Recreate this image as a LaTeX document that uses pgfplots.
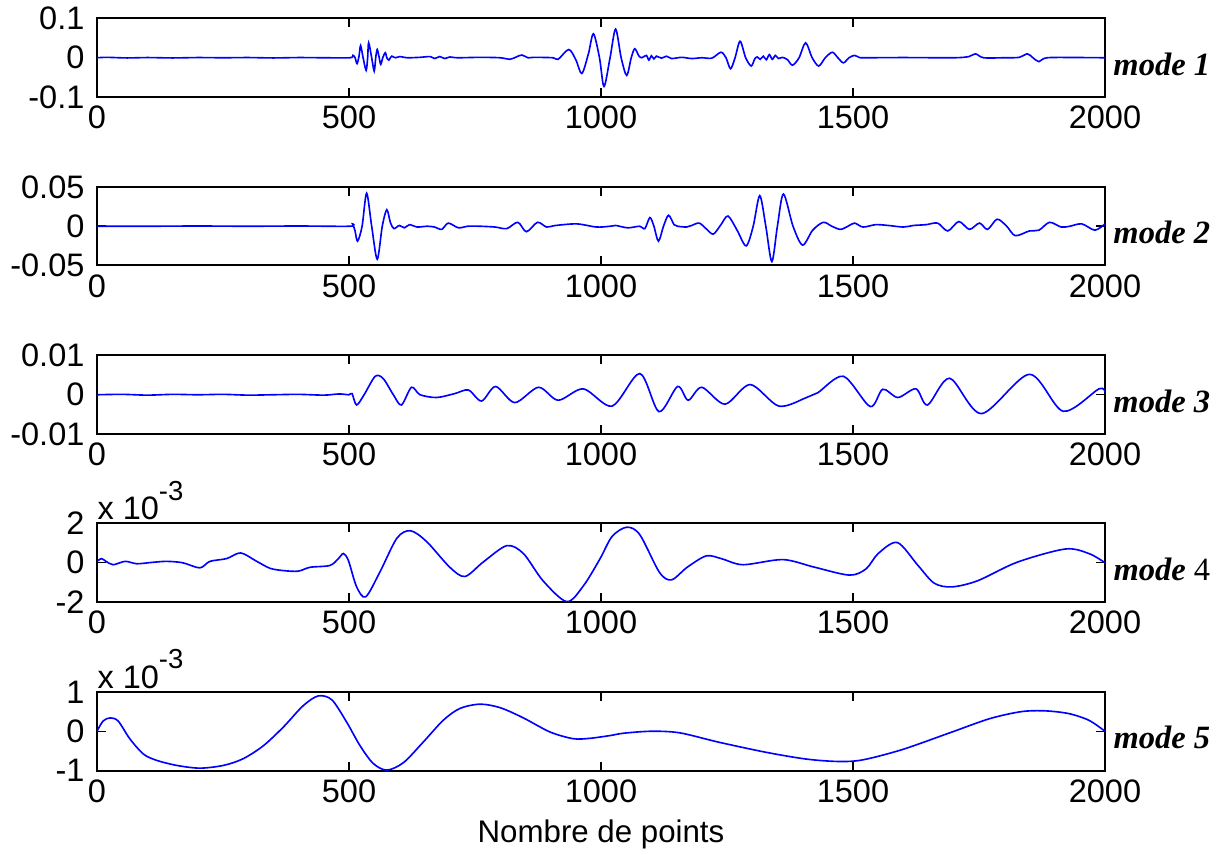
\documentclass[border=0pt]{standalone}
\usepackage{fontspec}
\setmainfont{Liberation Sans}
\newfontfamily\tnr{Liberation Serif}
\usepackage{pgfplots}
\pgfplotsset{compat=1.18}

\pgfplotsset{
  mode/.style={
    scale only axis, width=403.2pt, height=31.4pt,
    anchor=south west,
    clip mode=individual,
    xmin=0, xmax=2000,
    xtick={0,500,1000,1500,2000},
    xticklabels={0,500,1000,1500,2000},
    scaled y ticks=false,
    tick align=inside,
    major tick length=3.6pt,
    ticklabel style={font=\fontsize{13}{15}\selectfont},
    yticklabel style={xshift=-1.5pt},
    axis line style={line width=0.8pt},
    every tick/.style={black, line width=0.6pt},
  },
  sig/.style={blue, line width=0.65pt, smooth, tension=0.5, mark=none},
}
\newcommand{\modelabel}[1]{\node[anchor=base west, inner sep=0pt, xshift=3.2pt, yshift=-7pt,
  font=\tnr\fontsize{13}{15}\selectfont] at (rel axis cs:1,0.5) {#1};}
\newcommand{\expolabel}{\node[anchor=south west, inner sep=0pt, yshift=1.2pt,
  font=\fontsize{13}{15}\selectfont] at (rel axis cs:0,1) {x 10\raisebox{0.6em}{\fontsize{11}{12}\selectfont -3}};}

\begin{document}
\begin{tikzpicture}
\path[use as bounding box] (0,0) rectangle (490.8pt,-342pt);

% mode 1
\begin{axis}[mode, at={(38.8pt,-38.8pt)},
  ymin=-0.1, ymax=0.1, ytick={-0.1,0,0.1}, yticklabels={-0.1,0,0.1}]
\addplot[sig] coordinates {
(0,0) (20,0.001) (60,-0.0005) (100,0.0005) (150,-0.0005) (200,0.0005) (250,0) (300,0.0005)
(350,-0.0005) (400,0.0005) (450,0) (502,0)
(508,0.006) (512,0) (516,-0.015) (520,0.005) (523,0.031) (528,0) (534,-0.032) (537,0)
(539,0.038) (545,0) (550,-0.034) (553,0) (556,0.021) (560,0) (563,-0.017) (567,0)
(572,0.013) (575,0) (579,-0.006) (582,0) (585,0.004) (592,0) (601,0.003) (615,0)
(640,0.001) (661,0.003) (670,-0.002) (680,0.003) (690,-0.002) (700,0.002) (715,0)
(760,0.001) (800,0) (819,-0.004) (832,0.002) (843,0.007) (855,0) (866,0.001) (905,0)
(915,-0.004) (936,0.021) (950,-0.005) (962,-0.040) (975,0.010) (985,0.061) (997,0)
(1006,-0.073) (1018,0) (1029,0.073) (1040,0) (1051,-0.045) (1060,0) (1067,0.023)
(1075,0.005) (1081,0) (1090,0.006) (1095,-0.006) (1100,0.005) (1105,-0.003) (1110,0.004)
(1120,-0.001) (1130,0.004) (1140,-0.002) (1160,0.001) (1180,-0.002) (1200,0) (1220,-0.001)
(1238,0.014) (1248,0) (1257,-0.028) (1266,0) (1276,0.042) (1287,0) (1298,-0.021)
(1305,-0.003) (1310,0.002) (1316,-0.004) (1322,0.004) (1328,-0.005) (1334,0.008)
(1340,-0.004) (1346,0.006) (1352,-0.002) (1360,0.001) (1370,-0.005) (1380,-0.019)
(1393,0) (1406,0.038) (1419,0) (1432,-0.021) (1445,0) (1459,0.014) (1470,0) (1481,-0.013)
(1492,0) (1503,0.006) (1512,0.001) (1522,0) (1600,0.0005) (1700,0) (1730,0.003)
(1743,0.010) (1759,0) (1800,0) (1830,0.001) (1846,0.010) (1857,0) (1869,-0.010)
(1885,0) (1950,0.0005) (2000,0)
};
\modelabel{\bfseries\itshape mode 1}
\end{axis}

% mode 2
\begin{axis}[mode, at={(38.8pt,-106.2pt)},
  ymin=-0.05, ymax=0.05, ytick={-0.05,0,0.05}, yticklabels={-0.05,0,0.05}]
\addplot[sig] coordinates {
(0,0) (100,0) (200,0.0003) (300,0) (400,0.0003) (502,0) (507,0.003) (512,-0.006)
(517,-0.019) (526,0) (535,0.042) (545,0) (556,-0.042) (566,0) (575,0.021) (582,0.005)
(589,-0.003) (600,0.001) (610,-0.002) (620,0.002) (635,-0.001) (655,0) (670,-0.001)
(684,-0.004) (697,0.004) (717,-0.002) (735,0) (760,0) (790,-0.001) (813,-0.003)
(835,0.005) (852,-0.007) (874,0.005) (892,-0.001) (910,0.001) (952,0.003) (991,-0.001)
(1018,0) (1029,0.001) (1053,-0.002) (1077,0) (1087,-0.003) (1097,0.011) (1105,0)
(1114,-0.019) (1124,0) (1134,0.014) (1145,0.002) (1152,0) (1170,-0.001) (1180,0.001)
(1195,0.004) (1210,-0.004) (1223,-0.010) (1238,0.002) (1252,0.013) (1270,-0.005)
(1288,-0.025) (1302,0) (1315,0.039) (1327,0) (1339,-0.045) (1350,0) (1362,0.041)
(1381,0) (1400,-0.024) (1420,-0.005) (1441,0.005) (1458,0) (1475,-0.004) (1490,0)
(1503,0.004) (1520,-0.001) (1545,0.002) (1570,0.001) (1600,-0.001) (1620,0.001)
(1645,0.002) (1668,0.004) (1688,-0.006) (1710,0.006) (1731,-0.004) (1751,0.004)
(1767,-0.004) (1786,0.009) (1805,0) (1822,-0.012) (1850,-0.006) (1869,-0.005)
(1890,0.005) (1913,-0.001) (1930,0) (1954,0.003) (1980,-0.005) (2000,0.003)
};
\modelabel{\bfseries\itshape mode 2}
\end{axis}

% mode 3
\begin{axis}[mode, at={(38.8pt,-173.6pt)},
  ymin=-0.01, ymax=0.01, ytick={-0.01,0,0.01}, yticklabels={-0.01,0,0.01}]
\addplot[sig] coordinates {
(0,0) (50,0.0001) (100,-0.0001) (150,0.0001) (200,0) (250,0.0001) (300,-0.0001)
(350,0) (400,0.0001) (450,-0.0001) (480,0.0002) (500,0) (506,0.0003) (515,-0.0026)
(530,0) (552,0.0047) (568,0.0041) (588,0) (604,-0.0026) (624,0.0019) (641,0)
(674,-0.0007) (710,0.0003) (737,0.0012) (763,-0.0016) (791,0.0021) (829,-0.0020)
(876,0.0019) (915,-0.0014) (965,0.0015) (1022,-0.0029) (1077,0.0054) (1115,-0.0043)
(1152,0.0021) (1173,-0.0014) (1200,0.0019) (1246,-0.0024) (1296,0.0026) (1353,-0.0029)
(1408,-0.0007) (1430,0.0005) (1481,0.0047) (1534,-0.0030) (1559,0.0014) (1589,-0.0007)
(1625,0.0015) (1648,-0.0026) (1692,0.0042) (1755,-0.0048) (1850,0.0052) (1917,-0.0042)
(1988,0.0015) (2000,0.0006)
};
\modelabel{\bfseries\itshape mode 3}
\end{axis}

% mode 4
\begin{axis}[mode, at={(38.8pt,-240.8pt)},
  ymin=-0.002, ymax=0.002, ytick={-0.002,0,0.002}, yticklabels={-2,0,2}]
\addplot[sig] coordinates {
(0,0.00007) (9,0.00021) (18,0.00007) (32,-0.0001) (56,0.00007) (79,-0.00005)
(110,0.00002) (138,0.00007) (170,0) (204,-0.00026) (224,0.00007) (257,0.00021)
(285,0.0005) (315,0.0001) (343,-0.00028) (370,-0.0004) (399,-0.00043) (423,-0.00023)
(462,-0.00014) (479,0.00021) (489,0.00047) (499,0.0001) (515,-0.00122) (533,-0.00174)
(561,-0.00049) (595,0.00125) (622,0.00163) (654,0.00108) (700,-0.00023) (730,-0.0007)
(766,0.00003) (813,0.00087) (846,0.00047) (885,-0.00092) (932,-0.00198) (965,-0.00118)
(998,0.0002) (1022,0.00134) (1051,0.00181) (1077,0.00143) (1116,-0.00049)
(1140,-0.00087) (1171,-0.00023) (1209,0.00035) (1240,0.0002) (1282,-0.0001)
(1361,0.00016) (1424,-0.00023) (1493,-0.00063) (1526,-0.00031) (1550,0.00047)
(1588,0.00103) (1629,-0.00014) (1661,-0.00104) (1696,-0.00123) (1747,-0.00092)
(1826,0.00003) (1921,0.0007) (1968,0.00047) (2000,0)
};
\expolabel
\modelabel{{\bfseries\itshape mode} 4}
\end{axis}

% mode 5
\begin{axis}[mode, at={(38.8pt,-308.2pt)},
  ymin=-0.001, ymax=0.001, ytick={-0.001,0,0.001}, yticklabels={-1,0,1},
  xlabel={Nombre de points},
  xlabel style={font=\fontsize{12.5}{14}\selectfont}]
\addplot[sig] coordinates {
(0,0) (12,0.00026) (26,0.00034) (42,0.00026) (65,-0.00019) (92,-0.00058)
(118,-0.00074) (158,-0.00087) (204,-0.00094) (251,-0.00087) (290,-0.0007)
(330,-0.00037) (370,0.00011) (409,0.00065) (439,0.0009) (466,0.0008) (495,0.00024)
(522,-0.00037) (548,-0.00082) (575,-0.00099) (608,-0.0008) (647,-0.00028)
(687,0.00028) (720,0.00058) (760,0.00069) (800,0.0006) (846,0.00034) (899,-0.00002)
(945,-0.00019) (978,-0.00018) (1018,-0.00011) (1045,-0.00005) (1100,0)
(1156,-0.00004) (1234,-0.00028) (1329,-0.00054) (1408,-0.00071) (1471,-0.00077)
(1519,-0.00073) (1597,-0.00047) (1692,-0.00004) (1771,0.00032) (1834,0.0005)
(1881,0.00052) (1928,0.00045) (1968,0.00028) (2000,0)
};
\expolabel
\modelabel{\bfseries\itshape mode 5}
\end{axis}
\end{tikzpicture}
\end{document}
